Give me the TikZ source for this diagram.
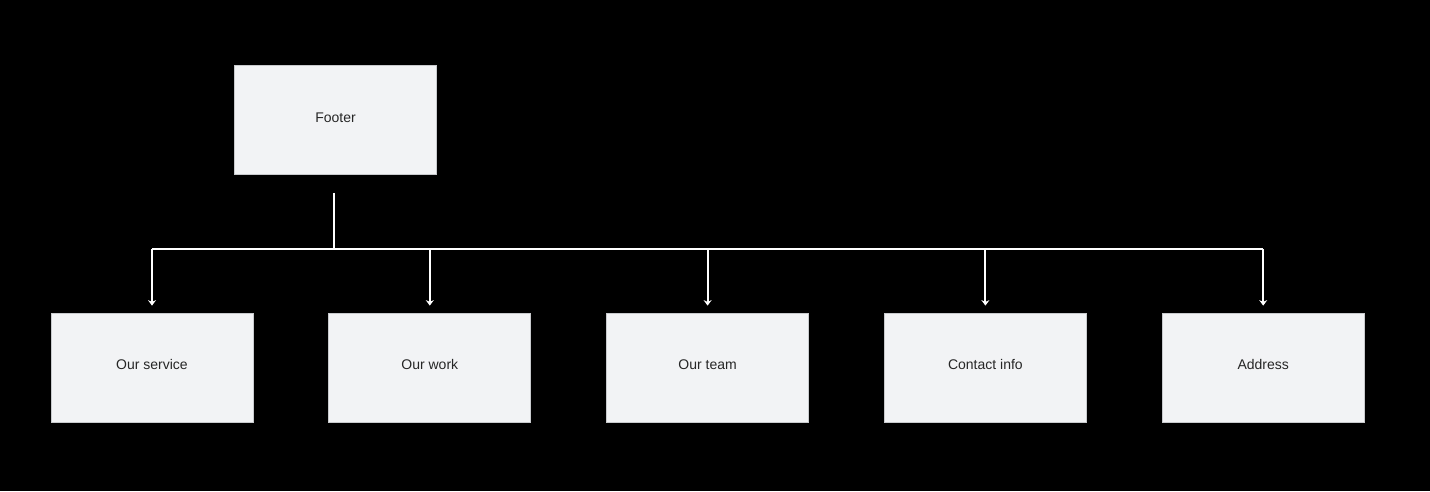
\documentclass[tikz,border=0pt]{standalone}
\usepackage{fontspec}
\setmainfont{Liberation Sans}
\usepackage{tikz}
\usetikzlibrary{shapes,arrows.meta,positioning}
\definecolor{notefill}{HTML}{F2F3F5}
\definecolor{noteline}{HTML}{C8CACD}
\tikzstyle{note} = [rectangle, draw=noteline, line width=0.8pt, fill=notefill, minimum width=202pt, minimum height=109pt, inner sep=0pt, text height=10pt, text depth=6pt, font=\fontsize{14}{16}\selectfont, text=black!85]
\tikzstyle{link} = [white, line width=2pt]
\tikzstyle{arrow} = [link, -{Stealth[length=5.5pt,width=8pt]}, shorten >=7pt]

\begin{document}
\begin{tikzpicture}[x=1pt, y=1pt, node distance=75pt]
    \useasboundingbox[fill=black] (0,0) rectangle (1430,-491);
    % Parent
    \node [note] (footer) at (335.5,-120) {Footer};

    % Sections
    \node [note] (service) at (152,-367.5) {Our service};
    \node [note, right=of service] (work) {Our work};
    \node [note, right=of work] (team) {Our team};
    \node [note, right=of team] (contact) {Contact info};
    \node [note, right=of contact] (address) {Address};

    % Connections
    \coordinate (split) at (334,-249);
    \draw [link, shorten <=18pt] (footer.south -| split) -- (split);
    \draw [link] (service |- split) -- (address |- split);
    \foreach \s in {service,work,team,contact,address}
        \draw [arrow] (\s |- split) -- (\s.north);
\end{tikzpicture}
\end{document}
